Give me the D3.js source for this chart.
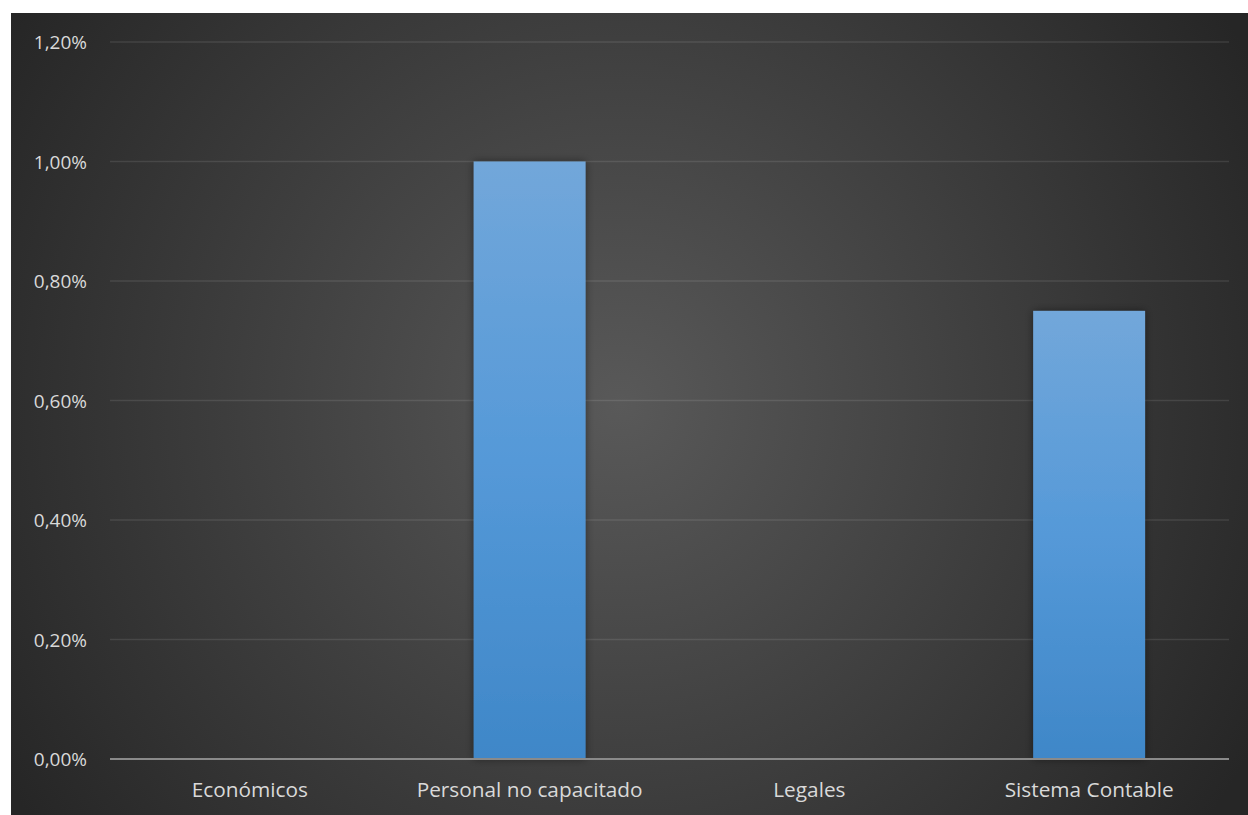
<!DOCTYPE html>
<html><head><meta charset="utf-8">
<script src="https://cdn.jsdelivr.net/npm/d3@7/dist/d3.min.js"></script>
<style>body{margin:0;background:#fff;}svg{display:block;}</style>
</head><body>
<svg id="chart" width="1248" height="815"></svg>
<script>
const categories = ["Económicos", "Personal no capacitado", "Legales", "Sistema Contable"];
const values = [0, 0.01, 0, 0.0075];
const yTicks = [0, 0.002, 0.004, 0.006, 0.008, 0.010, 0.012];

const svg = d3.select("#chart");
const W = 1248, H = 815;
const bg = {x: 11, y: 13};
const m = {left: 110, right: 1229, top: 42, bottom: 759};
const font = "'Open Sans', 'Noto Sans', sans-serif";

const defs = svg.append("defs");
const rg = defs.append("radialGradient").attr("id", "bgGrad")
  .attr("gradientUnits", "userSpaceOnUse")
  .attr("cx", 620).attr("cy", 405).attr("r", 720);
rg.append("stop").attr("offset", "0%").attr("stop-color", "#595959");
rg.append("stop").attr("offset", "100%").attr("stop-color", "#262626");

const bg2 = defs.append("linearGradient").attr("id", "barGrad")
  .attr("x1", 0).attr("y1", 0).attr("x2", 0).attr("y2", 1);
bg2.append("stop").attr("offset", "0%").attr("stop-color", "#72a7da");
bg2.append("stop").attr("offset", "50%").attr("stop-color", "#5599d8");
bg2.append("stop").attr("offset", "100%").attr("stop-color", "#3f87c8");

const f = defs.append("filter").attr("id", "shadow").attr("x", "-20%").attr("y", "-20%").attr("width", "140%").attr("height", "140%");
f.append("feDropShadow").attr("dx", 0).attr("dy", 0).attr("stdDeviation", 4)
  .attr("flood-color", "#000").attr("flood-opacity", 0.45);

svg.append("rect").attr("x", bg.x).attr("y", bg.y).attr("width", W - bg.x).attr("height", H - bg.y)
  .attr("fill", "url(#bgGrad)");

const x = d3.scaleBand().domain(categories).range([m.left, m.right]).padding(0);
const y = d3.scaleLinear().domain([0, 0.012]).range([m.bottom, m.top]);
const fmt = v => (v * 100).toFixed(2).replace(".", ",") + "%";

// gridlines
svg.append("g").selectAll("line").data(yTicks.filter(d => d > 0)).join("line")
  .attr("x1", m.left).attr("x2", m.right)
  .attr("y1", d => y(d)).attr("y2", d => y(d))
  .attr("stroke", "rgba(255,255,255,0.1)").attr("stroke-width", 1.5);

// y tick labels
const yAxis = d3.axisLeft(y).tickValues(yTicks).tickFormat(fmt).tickSize(0).tickPadding(0);
const ga = svg.append("g").attr("transform", `translate(87,0)`).call(yAxis);
ga.select(".domain").remove();
ga.selectAll("text").attr("fill", "#d9d9d9").attr("font-family", font).attr("font-size", 19)
  .attr("dy", "0.35em");

// bars
const bw = x.bandwidth() * 0.4;
svg.append("g").selectAll("rect").data(categories.map((c, i) => ({c, v: values[i]})).filter(d => d.v > 0)).join("rect")
  .attr("x", d => x(d.c) + x.bandwidth() / 2 - bw / 2)
  .attr("y", d => y(d.v))
  .attr("width", bw)
  .attr("height", d => y(0) - y(d.v))
  .attr("fill", "url(#barGrad)")
  .attr("filter", "url(#shadow)");

// x axis
const xAxis = d3.axisBottom(x).tickSize(0).tickPadding(0);
const gx = svg.append("g").attr("transform", `translate(0,${m.bottom})`).call(xAxis);
gx.select(".domain").attr("stroke", "#8a8a8a").attr("stroke-width", 2)
  .attr("d", `M${m.left},0H${m.right}`);
gx.selectAll("text").attr("fill", "#d9d9d9").attr("font-family", font).attr("font-size", 20.8)
  .attr("y", 38).attr("dy", 0);
</script>
</body></html>
